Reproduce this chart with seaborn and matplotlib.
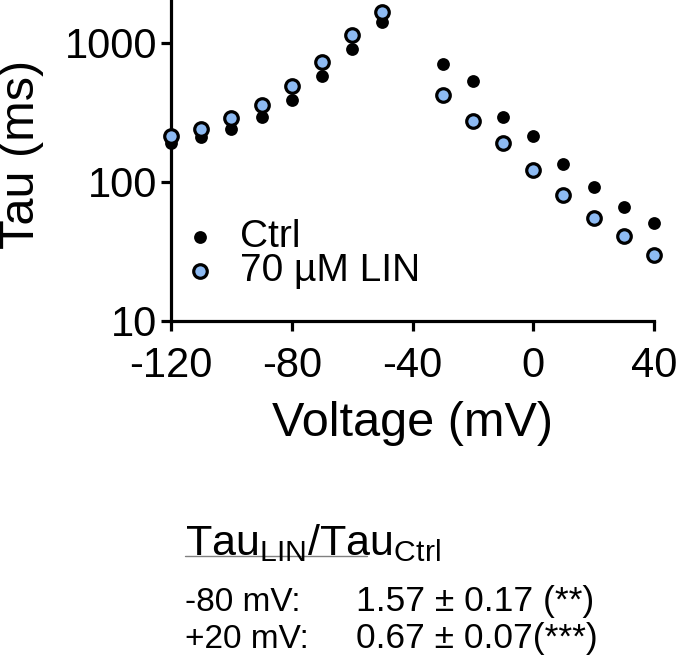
import matplotlib
matplotlib.use("Agg")
import matplotlib.pyplot as plt
from matplotlib.lines import Line2D
import seaborn as sns
import pandas as pd

# voltage steps (mV), no point at -40
voltage = [-120, -110, -100, -90, -80, -70, -60, -50, -30, -20, -10, 0, 10, 20, 30, 40]
tau_ctrl = [189, 210, 242, 294, 387, 576, 910, 1416, 706, 531, 294, 213, 134, 92, 66, 51]
tau_lin = [213, 241, 286, 356, 488, 726, 1148, 1661, 419, 273, 191, 122, 80, 55, 41, 30]
labels = ["Ctrl", "70 \u00b5M LIN"]

xticks = [-120, -80, -40, 0, 40]
yticks = [10, 100, 1000]

rows = ["-80 mV:", "+20 mV:"]
ratios = ["1.57 \u00b1 0.17 (**)", "0.67 \u00b1 0.07(***)"]

sns.set_style("ticks")
plt.rcParams["font.family"] = ["Liberation Sans", "DejaVu Sans"]
plt.rcParams["mathtext.fontset"] = "custom"
plt.rcParams["mathtext.rm"] = "Liberation Sans"
plt.rcParams["text.color"] = "black"
plt.rcParams["axes.labelcolor"] = "black"
plt.rcParams["axes.edgecolor"] = "black"
plt.rcParams["xtick.color"] = "black"
plt.rcParams["ytick.color"] = "black"

df_ctrl = pd.DataFrame({"V": voltage, "tau": tau_ctrl})
df_lin = pd.DataFrame({"V": voltage, "tau": tau_lin})

fig = plt.figure(figsize=(6.76, 6.58), dpi=100)
ax = fig.add_axes([171 / 676, 1 - 321 / 658, 483 / 676, 320 / 658])

sns.scatterplot(data=df_ctrl, x="V", y="tau", ax=ax, color="black", s=85,
                edgecolor="black", linewidth=0, label=labels[0], clip_on=False, zorder=3)
sns.scatterplot(data=df_lin, x="V", y="tau", ax=ax, color="#8DBAF2", s=95,
                edgecolor="black", linewidth=2.3, label=labels[1], clip_on=False, zorder=4)

ax.set_yscale("log")
ax.set_xlim(-120, 40)
ax.set_ylim(10, 2000)
ax.set_xticks(xticks)
ax.set_xticklabels([str(t) for t in xticks])
ax.set_yticks(yticks)
ax.set_yticklabels([str(t) for t in yticks])
ax.minorticks_off()

sns.despine(ax=ax)
for s in ["left", "bottom"]:
    ax.spines[s].set_linewidth(2.3)
ax.tick_params(axis="both", width=2.3, length=7, labelsize=30, colors="black")
ax.tick_params(axis="x", pad=11)
ax.tick_params(axis="y", pad=3)

ax.set_xlabel("Voltage (mV)", fontsize=35)
ax.xaxis.set_label_coords(0.5, -0.25)
ax.set_ylabel("Tau (ms)", fontsize=35)
ax.yaxis.set_label_coords(-0.262, 0.52)

ax.legend(loc="center left", bbox_to_anchor=(0.02, 0.208), frameon=False,
          fontsize=28, handlelength=1.0, handletextpad=0.53, labelspacing=-0.05,
          borderaxespad=0, borderpad=0)

fig.text(185 / 676, 1 - 555 / 658, r"Tau$_{\mathrm{LIN}}$/Tau$_{\mathrm{Ctrl}}$",
         fontsize=31, ha="left", va="baseline")
fig.add_artist(Line2D([185 / 676, 367 / 676], [1 - 556 / 658, 1 - 556 / 658],
                      color="gray", lw=1))
for i in range(2):
    y = 1 - (611 + i * 37) / 658
    fig.text(185 / 676, y, rows[i], fontsize=24, ha="left", va="baseline")
    fig.text(356 / 676, y, ratios[i], fontsize=25.5, ha="left", va="baseline")

fig.savefig("out.png", dpi=100)
